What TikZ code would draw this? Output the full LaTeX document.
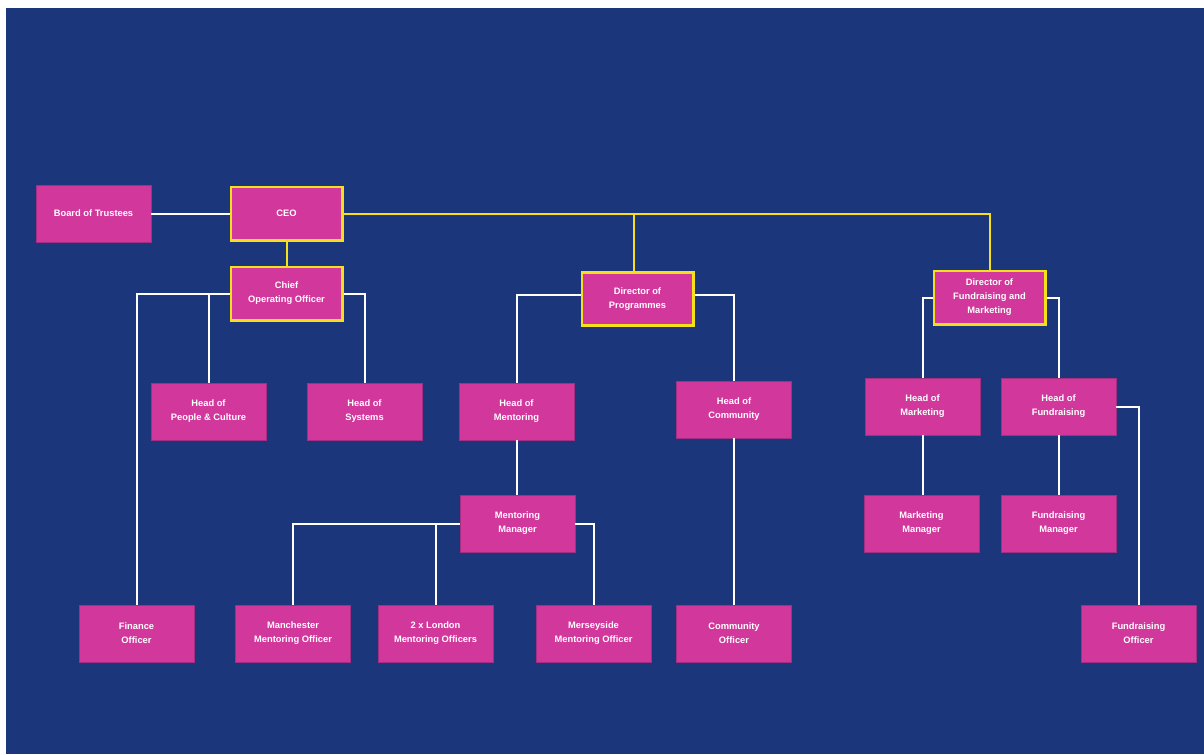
\documentclass[tikz,border=0pt]{standalone}
\usepackage{fontspec}
\setmainfont{Liberation Sans}
\usetikzlibrary{positioning}
\definecolor{navy}{HTML}{1B367B}
\definecolor{orgpink}{HTML}{D2379C}
\definecolor{orgpinkdark}{HTML}{A32F83}
\definecolor{orgyellow}{HTML}{F6E01C}
\tikzset{font=\bfseries\fontsize{7}{10.5}\selectfont}
\tikzset{role/.style={fill=orgpink, draw=orgpinkdark, line width=0.5pt, text=white,
    align=center, inner sep=0pt, minimum width=86pt, minimum height=42.5pt}}
\tikzset{lead/.style={role, draw=orgyellow, line width=2.2pt,
    minimum width=83.3pt, minimum height=39.8pt}}
\tikzset{wline/.style={white, line width=1.5pt}}
\tikzset{yline/.style={orgyellow, line width=1.5pt}}

\begin{document}
\begin{tikzpicture}[x=0.75pt, y=-0.75pt]
  \fill[white] (0,0) rectangle (1204,754);
  \fill[navy] (6,8) rectangle (1204,754);

  % top level
  \node[role] (board) at (93.5,213.5) {Board of Trustees};
  \node[lead] (ceo) at (286.5,213.5) {CEO};
  \node[lead] (coo) at (286.5,293.5) {Chief\\Operating Officer};
  \node[lead] (dprog) at (637.5,299) {Director of\\Programmes};
  \node[lead] (dfm) at (989.5,297.5) {Director of\\Fundraising and\\Marketing};

  % heads
  \node[role] (hpc) at (208.5,411.5) {Head of\\People \& Culture};
  \node[role] (hsys) at (364.5,411.5) {Head of\\Systems};
  \node[role] (hment) at (516.5,411.5) {Head of\\Mentoring};
  \node[role] (hcom) at (734,409.5) {Head of\\Community};
  \node[role] (hmkt) at (922.5,406.5) {Head of\\Marketing};
  \node[role] (hfund) at (1058.5,406.5) {Head of\\Fundraising};

  % managers
  \node[role] (mman) at (517.5,523.5) {Mentoring\\Manager};
  \node[role] (mktman) at (921.5,523.5) {Marketing\\Manager};
  \node[role] (fman) at (1058.5,523.5) {Fundraising\\Manager};

  % officers
  \node[role] (fin) at (136.5,633.5) {Finance\\Officer};
  \node[role] (manc) at (293,633.5) {Manchester\\Mentoring Officer};
  \node[role] (lond) at (435.5,633.5) {2 x London\\Mentoring Officers};
  \node[role] (mers) at (593.5,633.5) {Merseyside\\Mentoring Officer};
  \node[role] (comoff) at (734,633.5) {Community\\Officer};
  \node[role] (foff) at (1138.5,633.5) {Fundraising\\Officer};

  \draw[wline] (board) -- (ceo);
  \draw[yline] (ceo) -- (coo);
  \draw[yline] (ceo.east) -| (dfm.north);
  \draw[yline] (ceo.east -| dprog.north) ++(-2.6pt,0) -- ([xshift=-2.6pt]dprog.north);

  \draw[wline] (coo.west) -| (fin.north);
  \draw[wline] (coo.west -| hpc.north) -- (hpc.north);
  \draw[wline] (coo.east) -| (hsys.north);

  \draw[wline] ([yshift=3pt]dprog.west) -| (hment.north);
  \draw[wline] ([yshift=3pt]dprog.east) -| (hcom.north);
  \draw[wline] (hment.south) -- (hment.south |- mman.north);
  \draw[wline] (mman.west) -| (manc.north);
  \draw[wline] (mman.west -| lond.north) -- (lond.north);
  \draw[wline] (mman.east) -| (mers.north);
  \draw[wline] (hcom) -- (comoff);

  \draw[wline] (dfm.west) -| (hmkt.north);
  \draw[wline] (dfm.east) -| (hfund.north);
  \draw[wline] (hmkt.south) -- (hmkt.south |- mktman.north);
  \draw[wline] (hfund) -- (fman);
  \draw[wline] (hfund.east) -| (foff.north);
\end{tikzpicture}
\end{document}
